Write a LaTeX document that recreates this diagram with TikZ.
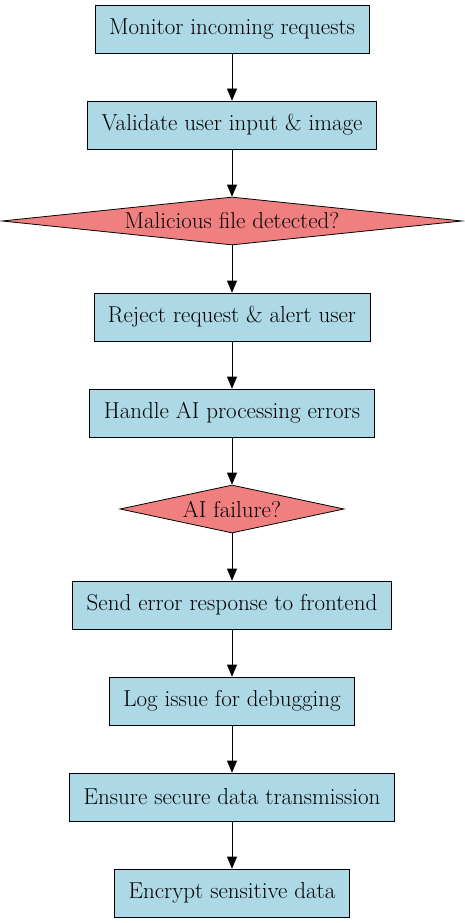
\documentclass[tikz,border=0pt]{standalone}
\usepackage{fontspec}
\usepackage{tikz}
\usetikzlibrary{arrows.meta, positioning, shapes.geometric}
\definecolor{boxblue}{HTML}{ADD8E6}
\definecolor{diamondred}{HTML}{F08080}
\tikzset{
  >={Triangle[length=12pt,width=10pt]},  % punta come graphviz
  % Nodi del flusso
  stepbox/.style={draw,thick,fill=boxblue,rectangle,minimum height=48pt,inner xsep=14pt,
    font=\fontsize{23}{26}\selectfont},
  decision/.style={draw,thick,fill=diamondred,diamond,inner sep=0pt,minimum height=48pt,
    font=\fontsize{23}{26}\selectfont},
  % Connessioni
  flow/.style={->,thick,black}
}
\begin{document}
\begin{tikzpicture}[x=1pt,y=1pt,node distance=96pt,on grid]
  \useasboundingbox (0,0) rectangle (464,-923);
  \node[stepbox] (monitor) at (232,-29) {Monitor incoming requests};
  \node[stepbox,below=of monitor] (validate) {Validate user input \& image};
  \node[decision,below=of validate,aspect=9.6,minimum width=460pt] (malicious) {Malicious file detected?};
  \node[stepbox,below=of malicious] (reject) {Reject request \& alert user};
  \node[stepbox,below=of reject] (handle) {Handle AI processing errors};
  \node[decision,below=of handle,aspect=4.67,minimum width=224pt] (aifail) {AI failure?};
  \node[stepbox,below=of aifail] (senderr) {Send error response to frontend};
  \node[stepbox,below=of senderr] (logissue) {Log issue for debugging};
  \node[stepbox,below=of logissue] (secure) {Ensure secure data transmission};
  \node[stepbox,below=of secure] (encrypt) {Encrypt sensitive data};
  \foreach \a/\b in {monitor/validate,validate/malicious,malicious/reject,reject/handle,
    handle/aifail,aifail/senderr,senderr/logissue,logissue/secure,secure/encrypt}
    \draw[flow] (\a) -- (\b);
\end{tikzpicture}
\end{document}
